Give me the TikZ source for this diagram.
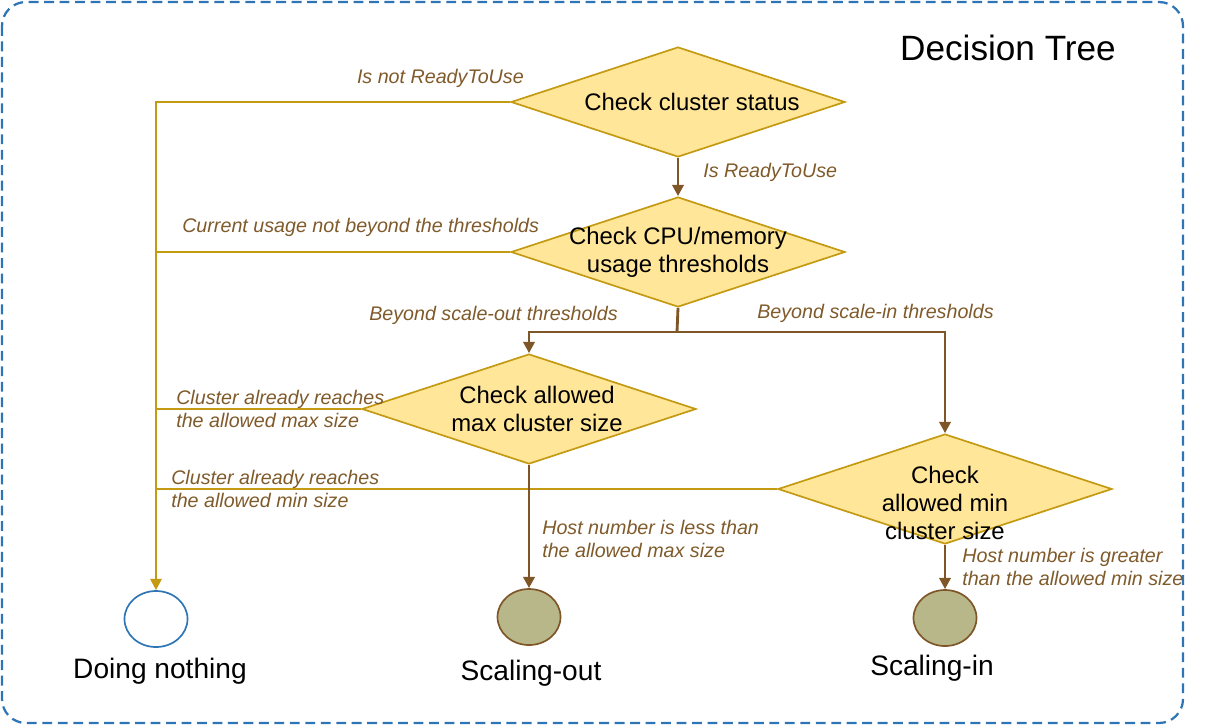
\documentclass[tikz,border=0pt]{standalone}
\usepackage{fontspec}
\setmainfont{Liberation Sans}
\usetikzlibrary{arrows.meta,shapes.geometric,positioning}
\definecolor{goldLine}{HTML}{C49A12}
\definecolor{brownLine}{HTML}{7F5628}
\definecolor{labColor}{HTML}{7F5A2A}
\definecolor{diaFill}{HTML}{FFE699}
\definecolor{endFill}{HTML}{B8B78A}
\definecolor{frameColor}{HTML}{2E75B6}
\tikzset{
	decision/.style={draw=goldLine, fill=diaFill, line width=1.2pt, diamond, minimum width=8.35cm, minimum height=2.75cm, inner sep=0},
	dtext/.style={font=\fontsize{17}{20}\selectfont, align=center, inner sep=0},
	endnode/.style={ellipse, minimum width=1.575cm, minimum height=1.4cm, line width=1.2pt},
	endtext/.style={font=\fontsize{20}{24}\selectfont, inner sep=0},
	cond/.style={font=\fontsize{14}{17}\selectfont\itshape, text=labColor, align=left, inner sep=0, anchor=west},
	noline/.style={draw=goldLine, line width=1.5pt},
	yesline/.style={draw=brownLine, line width=2pt}
}

\begin{document}
\begin{tikzpicture}[x=0.025cm, y=-0.025cm, >={Triangle[length=8pt,width=8pt]}]
	\useasboundingbox (0,0) rectangle (1214,726);
	\draw[frameColor, line width=1.6pt, dash pattern=on 7pt off 4pt, rounded corners=0.6cm] (2,2) rectangle (1183,723);
	\node[font=\fontsize{25}{30}\selectfont] (title) at (1008,48) {Decision Tree};
	
	\node[decision, label={[dtext, xshift=0.35cm]center:{Check cluster status}}] (d1) at (678,102) {};
	\node[decision, label={[dtext]center:{Check CPU/memory\\usage thresholds}}] (d2) at (678,252) {};
	\node[decision, label={[dtext, xshift=0.2cm]center:{Check allowed\\max cluster size}}] (d3) at (529,409) {};
	\node[decision, label={[dtext, yshift=-0.35cm]center:{Check\\allowed min\\cluster size}}] (d4) at (945,489) {};
	
	\node[endnode, draw=frameColor, fill=white] (nothing) at (156,619) {};
	\node[endnode, draw=brownLine, fill=endFill] (out) at (529,617) {};
	\node[endnode, draw=brownLine, fill=endFill] (in) at (945,618) {};
	\node[endtext] (nothingtxt) at (160,671) {Doing nothing};
	\node[endtext] (outtxt) at (531,673) {Scaling-out};
	\node[endtext] (intxt) at (932,668) {Scaling-in};
	
	\coordinate (split) at (677,332);
	
	% not passing: all to doing nothing
	\draw[noline, ->] (d1.west) -| (nothing.north);
	\draw[noline] (d2.west) -- (d2.west -| nothing.north);
	\draw[noline] (d3.west) -- (d3.west -| nothing.north);
	\draw[noline] (d4.west) -- (d4.west -| nothing.north);
	
	\draw[yesline, ->] (d1.south) -- (d2.north);
	\draw[yesline] (d2.south) -- (split);
	\draw[yesline, ->] (split) -| (d3.north);
	\draw[yesline, ->] (split) -| (d4.north);
	\draw[yesline, ->] (d3.south) -- (out.north);
	\draw[yesline, ->] (d4.south) -- (in.north);
	
	\node[cond, anchor=east] (c1) at (524,78) {Is not ReadyToUse};
	\node[cond] (c2) at (703,172) {Is ReadyToUse};
	\node[cond] (c3) at (182,227) {Current usage not beyond the thresholds};
	\node[cond] (c4) at (369,315) {Beyond scale-out thresholds};
	\node[cond] (c5) at (757,313) {Beyond scale-in thresholds};
	\node[cond] (c6) at (176,409) {Cluster already reaches\\the allowed max size};
	\node[cond] (c7) at (171,489) {Cluster already reaches\\the allowed min size};
	\node[cond] (c8) at (542,539) {Host number is less than\\the allowed max size};
	\node[cond] (c9) at (962,567) {Host number is greater\\than the allowed min size};
\end{tikzpicture}
\end{document}
